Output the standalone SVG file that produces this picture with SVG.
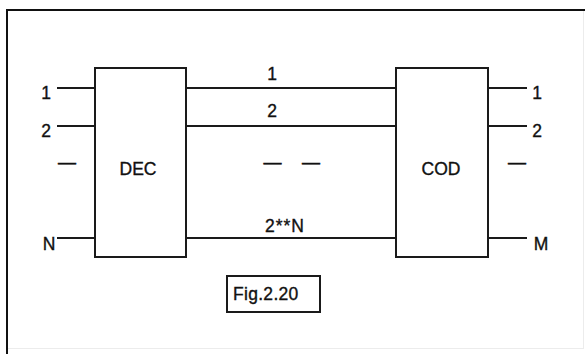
<svg xmlns="http://www.w3.org/2000/svg" width="585" height="354" viewBox="0 0 585 354">
<style>
  .box{fill:#fff;stroke:#1a1a1a;stroke-width:2}
  .ln{stroke:#1a1a1a;stroke-width:2;fill:none}
  .t{font-family:"Liberation Sans",Arial,sans-serif;font-size:17.5px;fill:#111;stroke:#111;stroke-width:0.35}
  .m{text-anchor:middle}
  .d{font-family:"Liberation Sans",Arial,sans-serif;font-size:18px;fill:#111;stroke:#111;stroke-width:0.5;text-anchor:middle}
</style>
<rect x="0" y="0" width="585" height="354" fill="#fff"/>
<g id="frame">
  <line x1="583.5" y1="10" x2="583.5" y2="348" stroke="#ececec" stroke-width="1"/>
  <line x1="7" y1="348.5" x2="584" y2="348.5" stroke="#ececec" stroke-width="1"/>
  <line x1="6" y1="10" x2="585" y2="10" stroke="#111" stroke-width="2"/>
  <line x1="7" y1="9" x2="7" y2="354" stroke="#111" stroke-width="2"/>
</g>
<g id="connectors">
  <line class="ln" x1="57" y1="88" x2="95" y2="88"/>
  <line class="ln" x1="57" y1="126" x2="95" y2="126"/>
  <line class="ln" x1="57" y1="238" x2="95" y2="238"/>
  <line class="ln" x1="186" y1="88" x2="396" y2="88"/>
  <line class="ln" x1="186" y1="126" x2="396" y2="126"/>
  <line class="ln" x1="186" y1="238" x2="396" y2="238"/>
  <line class="ln" x1="488" y1="88" x2="527" y2="88"/>
  <line class="ln" x1="488" y1="126" x2="527" y2="126"/>
  <line class="ln" x1="488" y1="238" x2="527" y2="238"/>
</g>
<g id="DEC">
  <rect class="box" x="95" y="68" width="91" height="189"/>
  <text class="t m" x="138" y="175">DEC</text>
</g>
<g id="COD">
  <rect class="box" x="396" y="68" width="92" height="189"/>
  <text class="t m" x="441" y="175">COD</text>
</g>
<g id="labels">
  <text class="t m" x="46" y="99">1</text>
  <text class="t m" x="46" y="137">2</text>
  <text class="d" x="67" y="168">—</text>
  <text class="t m" x="49" y="250">N</text>
  <text class="t m" x="272" y="80">1</text>
  <text class="t m" x="272" y="117">2</text>
  <text class="d" x="272.5" y="168">—</text>
  <text class="d" x="311" y="168">—</text>
  <text class="t m" x="285" y="232" letter-spacing="1">2**N</text>
  <text class="t m" x="537" y="99">1</text>
  <text class="t m" x="537" y="137">2</text>
  <text class="d" x="517" y="168">—</text>
  <text class="t m" x="541" y="250">M</text>
</g>
<g id="fig">
  <rect class="box" x="227" y="276" width="93" height="36"/>
  <text class="t" x="233" y="300" letter-spacing="0.3">Fig.2.20</text>
</g>
</svg>
